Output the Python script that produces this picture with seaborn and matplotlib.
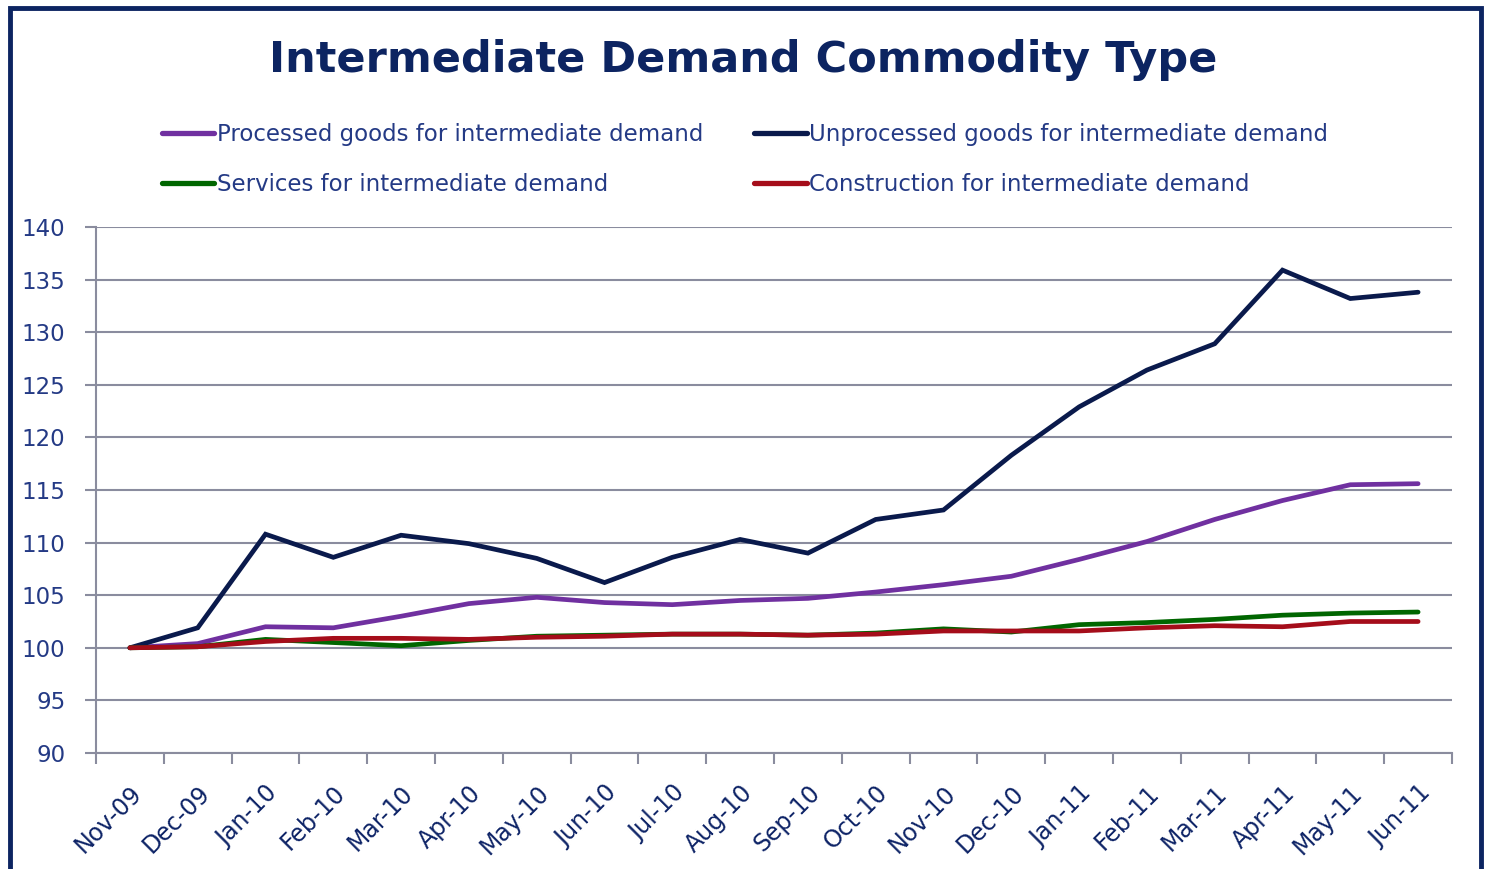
import matplotlib
matplotlib.use("Agg")
import matplotlib.pyplot as plt
from matplotlib.patches import Rectangle
import seaborn as sns
import pandas as pd

months = ["Nov-09", "Dec-09", "Jan-10", "Feb-10", "Mar-10", "Apr-10", "May-10",
          "Jun-10", "Jul-10", "Aug-10", "Sep-10", "Oct-10", "Nov-10", "Dec-10",
          "Jan-11", "Feb-11", "Mar-11", "Apr-11", "May-11", "Jun-11"]

processed = [100.0, 100.4, 102.0, 101.9, 103.0, 104.2, 104.8, 104.3, 104.1, 104.5,
             104.7, 105.3, 106.0, 106.8, 108.4, 110.1, 112.2, 114.0, 115.5, 115.6]
unprocessed = [100.0, 101.9, 110.8, 108.6, 110.7, 109.9, 108.5, 106.2, 108.6, 110.3,
               109.0, 112.2, 113.1, 118.3, 122.9, 126.4, 128.9, 135.9, 133.2, 133.8]
services = [100.0, 100.1, 100.8, 100.5, 100.2, 100.7, 101.1, 101.2, 101.3, 101.3,
            101.2, 101.4, 101.8, 101.5, 102.2, 102.4, 102.7, 103.1, 103.3, 103.4]
construction = [100.0, 100.1, 100.6, 100.9, 100.9, 100.8, 101.0, 101.1, 101.3, 101.3,
                101.2, 101.3, 101.6, 101.6, 101.6, 101.9, 102.1, 102.0, 102.5, 102.5]

series_names = ["Processed goods for intermediate demand",
                "Unprocessed goods for intermediate demand",
                "Services for intermediate demand",
                "Construction for intermediate demand"]
colors = ["#7030a0", "#0a1a4c", "#006600", "#a50d1a"]

frames = []
for name, vals in zip(series_names, [processed, unprocessed, services, construction]):
    frames.append(pd.DataFrame({"idx": range(len(months)), "value": vals, "series": name}))
df = pd.concat(frames, ignore_index=True)

sns.set_style("white")
plt.rcParams["font.family"] = ["DejaVu Sans"]

navy = "#0c2461"
label_col = "#243a85"
grid_col = "#8a8c9e"

fig = plt.figure(figsize=(14.87, 8.69), dpi=100)
ax = fig.add_axes([96 / 1487, 1 - 753 / 869, (1452 - 96) / 1487, (753 - 227) / 869])

sns.lineplot(data=df, x="idx", y="value", hue="series", hue_order=series_names,
             palette=colors, linewidth=3.4, ax=ax, legend=False,
             solid_capstyle="round", solid_joinstyle="miter")

ax.set_xlim(-0.5, len(months) - 0.5)
ax.set_ylim(90, 140)
ax.set_yticks(range(90, 141, 5))
ax.yaxis.grid(True, color=grid_col, linewidth=1.5)
ax.set_axisbelow(True)
ax.set_xlabel("")
ax.set_ylabel("")

# ticks sit between categories, labels sit on the category centres
ax.set_xticks([i + 0.5 for i in range(-1, len(months))], minor=False)
ax.set_xticklabels([])
ax.set_xticks(range(len(months)), minor=True)
ax.set_xticklabels(months, minor=True, rotation=45, ha="right", rotation_mode="anchor",
                   fontsize=17, color="#0d2366")
ax.tick_params(axis="x", which="major", length=8, width=1.5, color=grid_col, direction="out",
               bottom=True)
ax.tick_params(axis="x", which="minor", length=0, pad=20)
ax.tick_params(axis="y", length=8, width=1.5, color=grid_col, labelsize=16.5,
               labelcolor=label_col, pad=14, left=True)

for s in ["top", "right"]:
    ax.spines[s].set_visible(False)
for s in ["left", "bottom"]:
    ax.spines[s].set_color(grid_col)
    ax.spines[s].set_linewidth(1.5)

fig.text(0.5, 1 - 60 / 869, "Intermediate Demand Commodity Type", ha="center", va="center",
         fontsize=31, fontweight="bold", color=navy)

handles = [plt.Line2D([], [], color=c, linewidth=3.8) for c in colors]
order = [0, 2, 1, 3]
leg = fig.legend([handles[i] for i in order], [series_names[i] for i in order],
                 ncol=2, frameon=False, loc="upper left",
                 bbox_to_anchor=(141 / 1487, 1 - 102 / 869), fontsize=16.5,
                 handlelength=2.3, handletextpad=0.12, columnspacing=2.2,
                 labelspacing=1.2)
for t in leg.get_texts():
    t.set_color(label_col)

fig.patches.append(Rectangle((10 / 1487, -0.1), (1481 - 10) / 1487, 1.1 - 8 / 869,
                             transform=fig.transFigure, fill=False, edgecolor=navy,
                             linewidth=3.5, figure=fig))

fig.savefig("out.png", dpi=100)
